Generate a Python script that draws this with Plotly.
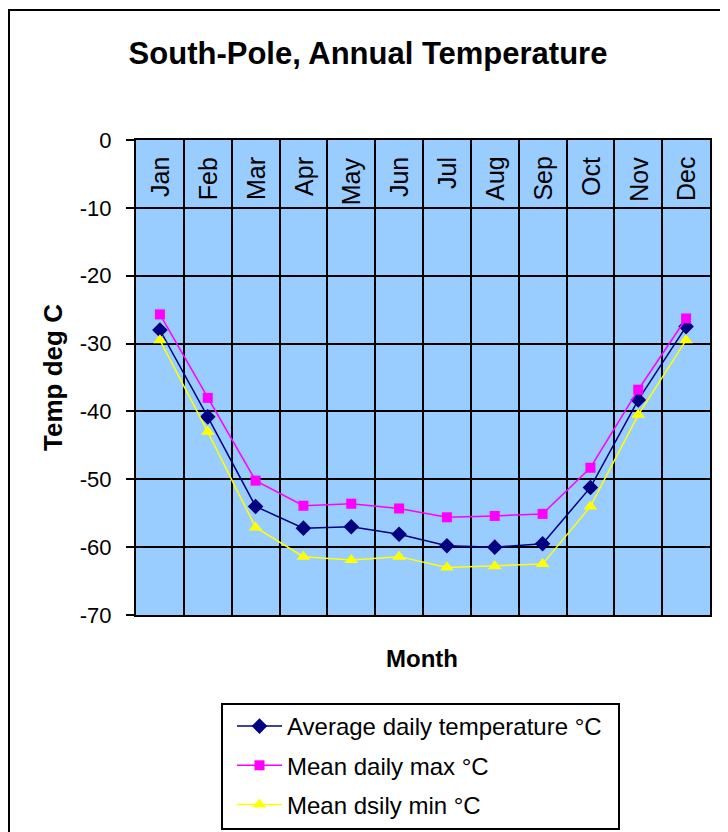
import plotly.graph_objects as go

months = ["Jan", "Feb", "Mar", "Apr", "May", "Jun", "Jul", "Aug", "Sep", "Oct", "Nov", "Dec"]
avg_temp = [-28.0, -40.8, -54.0, -57.2, -57.0, -58.1, -59.8, -60.0, -59.5, -51.2, -38.3, -27.5]
max_temp = [-25.7, -38.0, -50.2, -53.9, -53.6, -54.3, -55.6, -55.4, -55.1, -48.3, -36.8, -26.3]
min_temp = [-29.5, -43.0, -57.1, -61.4, -61.9, -61.4, -63.0, -62.8, -62.5, -54.0, -40.5, -29.5]
y_tickvals = [0, -10, -20, -30, -40, -50, -60, -70]
y_ticktext = ["0", "-10", "-20", "-30", "-40", "-50", "-60", "-70"]

OFF = 8  # default page body margin
W, H = 728 - OFF, 832 - OFF
# plot area in figure pixels (reference pixel minus body margin)
L, R, T, B = 136 - OFF, 710 - OFF, 140 - OFF, 615 - OFF
pw, ph = R - L, B - T

def px(x):
    return (x - OFF - L) / pw

def py(y):
    return (B - (y - OFF)) / ph

FONT = "Liberation Sans, Arial, sans-serif"

fig = go.Figure()
fig.add_trace(go.Scatter(
    x=months, y=avg_temp, mode="lines+markers", name="Average daily temperature °C",
    line=dict(color="#000080", width=1.5),
    marker=dict(symbol="diamond", size=12, color="#000080"),
    legendgroup="a"))
fig.add_trace(go.Scatter(
    x=months, y=max_temp, mode="lines+markers", name="Mean daily max °C",
    line=dict(color="#FF00FF", width=1.5),
    marker=dict(symbol="square", size=10, color="#FF00FF"),
    legendgroup="b"))
fig.add_trace(go.Scatter(
    x=months, y=min_temp, mode="lines+markers", name="Mean dsily min °C",
    line=dict(color="#FFFF00", width=1.5),
    marker=dict(symbol="triangle-up", size=12, color="#FFFF00"),
    legendgroup="c"))

fig.update_layout(
    width=W, height=H,
    margin=dict(l=L, r=W - R, t=T, b=H - B, pad=0, autoexpand=False),
    paper_bgcolor="white",
    plot_bgcolor="#99CCFF",
    font=dict(family=FONT, color="black"),
    title=dict(text="<b>South-Pole, Annual Temperature</b>", font=dict(size=31, family=FONT),
               x=(368 - OFF) / W, xanchor="center", y=1 - (53 - OFF) / H, yanchor="middle"),
    showlegend=True,
    legend=dict(
        x=px(232), y=py(704), xanchor="left", yanchor="top",
        bgcolor="rgba(0,0,0,0)", borderwidth=0,
        font=dict(size=24, family=FONT),
        traceorder="grouped", tracegroupgap=5,
        itemwidth=45,
    ),
    xaxis=dict(
        type="category", range=[-0.5, len(months) - 0.5],
        tickson="boundaries", ticks="",
        showticklabels=False, automargin=False,
        showgrid=True, gridcolor="black", gridwidth=2,
        showline=True, linecolor="black", linewidth=2, mirror=True,
    ),
    yaxis=dict(
        range=[-70, 0], tickvals=y_tickvals, ticktext=y_ticktext,
        ticks="outside", ticklen=8, tickwidth=2, tickcolor="black",
        tickfont=dict(size=22, family=FONT), automargin=False,
        ticklabelstandoff=10,
        showgrid=True, gridcolor="black", gridwidth=2,
        zeroline=False,
        showline=True, linecolor="black", linewidth=2, mirror=True,
        title=dict(text="<b>Temp deg C</b>", font=dict(size=26, family=FONT), standoff=10),
    ),
)

# month labels inside the top band of the plot
for m in months:
    fig.add_annotation(text=m, xref="x", yref="y", x=m, y=0,
                       xanchor="center", yanchor="top", yshift=-15,
                       textangle=-90, showarrow=False,
                       font=dict(size=25, family=FONT, color="black"))

fig.add_annotation(text="<b>Month</b>", xref="paper", yref="paper",
                   x=px(422), y=py(658), xanchor="center", yanchor="middle",
                   showarrow=False, font=dict(size=24, family=FONT))

# outer chart border
fig.add_shape(type="rect", xref="paper", yref="paper",
              x0=px(9), x1=px(726), y0=py(10), y1=py(850),
              line=dict(color="black", width=2), fillcolor="rgba(0,0,0,0)", layer="below")
# legend frame
fig.add_shape(type="rect", xref="paper", yref="paper",
              x0=px(222), x1=px(619), y0=py(704), y1=py(829),
              line=dict(color="black", width=2), fillcolor="white", layer="below")

fig.write_html("out.html")
